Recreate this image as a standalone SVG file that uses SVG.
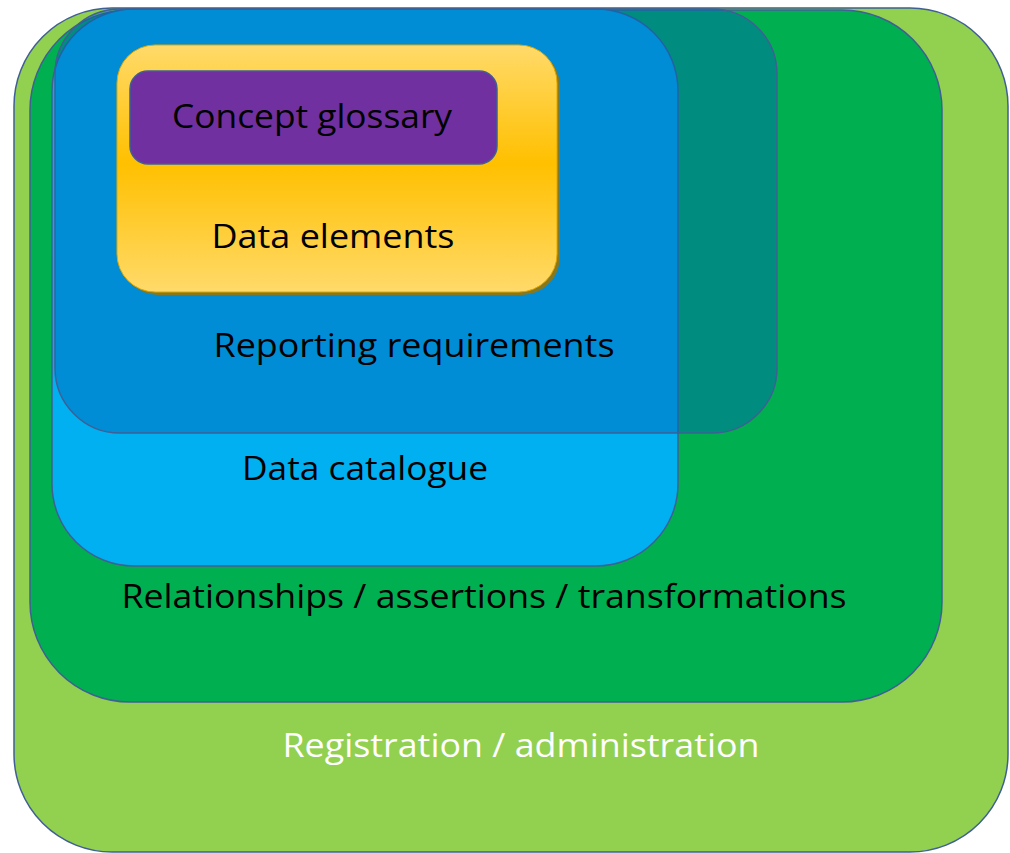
<svg xmlns="http://www.w3.org/2000/svg" width="1010" height="853" viewBox="0 0 1010 853">
  <defs>
    <linearGradient id="yel" x1="0" y1="0" x2="0" y2="1">
      <stop offset="0" stop-color="#FFDA6A"/>
      <stop offset="0.48" stop-color="#FFC000"/>
      <stop offset="1" stop-color="#FFDA6A"/>
    </linearGradient>
  </defs>
  <style>
    .box { stroke: #3F5F95; stroke-width: 1.5; }
    .lbl { font-family: "Open Sans", "Liberation Sans", sans-serif; font-size: 32px; fill: #000; text-anchor: middle; }
  </style>
  <rect width="1010" height="853" fill="#FFFFFF"/>
  <g id="registration">
    <rect class="box" x="14" y="8" width="994" height="844" rx="98" ry="98" fill="#92D050"/>
    <text class="lbl" x="521" y="757" style="fill:#FFFFFF" textLength="477" lengthAdjust="spacingAndGlyphs">Registration / administration</text>
  </g>
  <g id="relationships">
    <rect class="box" x="30" y="10" width="912" height="692" rx="100" ry="100" fill="#00B050"/>
    <text class="lbl" x="484" y="608" textLength="725" lengthAdjust="spacingAndGlyphs">Relationships / assertions / transformations</text>
  </g>
  <g id="data-catalogue">
    <rect class="box" x="52" y="9" width="626" height="557" rx="82" ry="82" fill="#00B0F0"/>
    <text class="lbl" x="365" y="480" textLength="246" lengthAdjust="spacingAndGlyphs">Data catalogue</text>
  </g>
  <g id="reporting-requirements">
    <rect class="box" x="55" y="9" width="722" height="424" rx="65" ry="65" fill="#0065B7" fill-opacity="0.47"/>
    <text class="lbl" x="414" y="357" textLength="401" lengthAdjust="spacingAndGlyphs">Reporting requirements</text>
  </g>
  <g id="data-elements">
    <rect x="120" y="48" width="440" height="247" rx="38" ry="38" fill="#9C7400" opacity="0.85"/>
    <rect x="117" y="45" width="440" height="247" rx="38" ry="38" fill="url(#yel)" stroke="#E0A800" stroke-width="1"/>
    <text class="lbl" x="333" y="248" textLength="243" lengthAdjust="spacingAndGlyphs">Data elements</text>
  </g>
  <g id="concept-glossary">
    <rect class="box" x="130" y="71" width="367" height="93" rx="18" ry="18" fill="#7030A0" stroke-width="1"/>
    <text class="lbl" x="312" y="128" textLength="280" lengthAdjust="spacingAndGlyphs">Concept glossary</text>
  </g>
  <g id="connectors"/>
</svg>
